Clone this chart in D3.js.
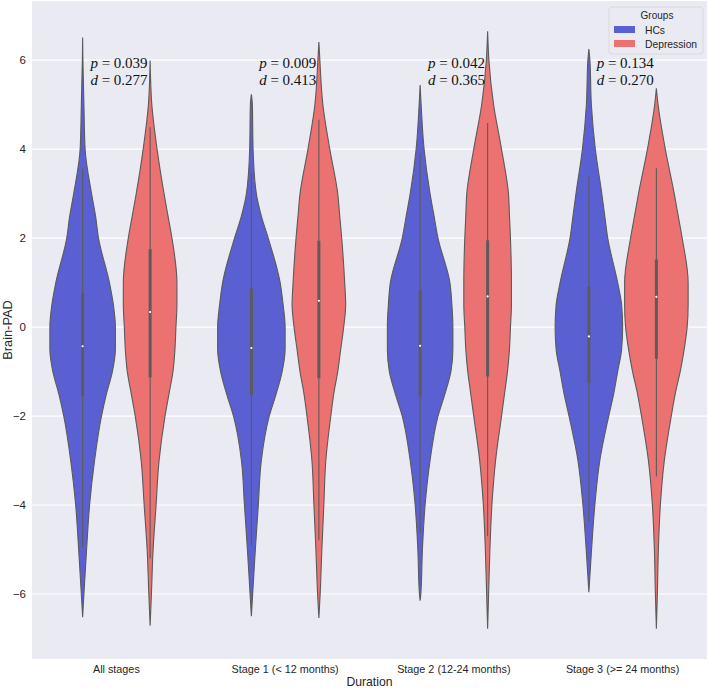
<!DOCTYPE html>
<html>
<head>
<meta charset="utf-8">
<script src="https://cdn.jsdelivr.net/npm/d3@7"></script>
<style>
  body { margin: 0; background: #fff; }
  svg { display: block; }
</style>
</head>
<body>
<svg id="chart" width="709" height="688"></svg>
<script>
// ---------------- DATA ----------------
const categories = ["All stages", "Stage 1 (< 12 months)", "Stage 2 (12-24 months)", "Stage 3 (>= 24 months)"];
const groups = ["HCs", "Depression"];
const groupColors = ["#5a5fd1", "#ec7171"];
const yTicks = [-6, -4, -2, 0, 2, 4, 6];

// Brain-PAD values at which the violin density (half-width) is read
const gridValues = [6, 5, 4, 3, 2.5, 2, 1, 0.5, 0, -0.5, -1, -1.5, -2, -3, -4, -5, -6];

// relative density (one array per category)
const hcsDensity = [
  [0.3, 1.3, 2.5, 9, 13, 16, 27, 31, 33, 33, 30, 24, 19, 12, 7, 4, 1.3],
  [null, 1, 1.7, 5, 10, 17, 29, 32, 34, 34, 31, 25, 18, 10, 7, 4, 1.3],
  [null, 1, 4, 10, 14, 18, 30, 32, 33, 33, 31, 25, 18, 10, 5, 2.3, 0.7],
  [1, 2.5, 6.5, 13, 16, 19, 29, 33, 34, 33, 29, 25, 20, 11, 6, 2.7, null]
];
const depDensity = [
  [null, 1.7, 7, 14, 18, 22, 27, 27, 26, 25, 23, 19, 15, 9, 6, 3, 1.3],
  [1, 4, 11, 19, 21, 23, 26, 27, 25, 22, 19, 15, 12, 7, 5, 3, 1.3],
  [1.3, 6, 14, 21, 22, 23, 24, 24, 23, 22, 20, 17, 14, 8, 4.3, 2.3, 1],
  [null, 1.7, 9, 18, 22, 26, 32, 32, 31, 28, 24, 19, 15, 8, 4, 2, 1]
];
// violin extent [max, min]
const hcsExtent = [[6.51, -6.52], [5.23, -6.50], [5.44, -6.15], [6.25, -5.96]];
const depExtent = [[5.99, -6.71], [6.41, -6.54], [6.65, -6.78], [5.37, -6.78]];
// inner box: [lower whisker, q1, median, q3, upper whisker]
const hcsBox = [
  [-4.94, -1.55, -0.43, 0.77, 3.57],
  [-4.90, -1.53, -0.47, 0.87, 3.45],
  [-4.63, -1.56, -0.42, 0.83, 3.90],
  [-4.37, -1.25, -0.21, 0.91, 3.39]
];
const depBox = [
  [-5.20, -1.13, 0.34, 1.75, 4.49],
  [-4.79, -1.15, 0.59, 1.94, 4.66],
  [-4.70, -1.11, 0.69, 1.95, 4.59],
  [-3.36, -0.71, 0.68, 1.52, 3.57]
];
const pValues = ["0.039", "0.009", "0.042", "0.134"];
const dValues = ["0.277", "0.413", "0.365", "0.270"];

// ---------------- LAYOUT ----------------
const svg = d3.select("#chart");
const plot = { left: 32, right: 707, top: 1, bottom: 659 };
const textColor = "#262626";
const sans = "'Liberation Sans', Arial, sans-serif";
const serif = "'Liberation Serif', 'Times New Roman', serif";

const x = d3.scaleBand().domain(categories).range([plot.left, plot.right]).paddingInner(0).paddingOuter(0);
const xSub = d3.scaleBand().domain(groups).range([x.bandwidth() * 0.1, x.bandwidth() * 0.9]);
const y = d3.scaleLinear().domain([-7.46, 7.33]).range([plot.bottom, plot.top]);
const w = d3.scaleLinear().domain([0, 34]).range([0, xSub.bandwidth() / 2]);

// background
svg.append("rect")
  .attr("x", plot.left).attr("y", plot.top)
  .attr("width", plot.right - plot.left).attr("height", plot.bottom - plot.top)
  .attr("fill", "#eaeaf2");

// grid
svg.append("g").selectAll("line").data(yTicks).join("line")
  .attr("x1", plot.left).attr("x2", plot.right)
  .attr("y1", d => y(d)).attr("y2", d => y(d))
  .attr("stroke", "#fff").attr("stroke-width", 1.1);

// y axis
const yAxis = d3.axisLeft(y).tickValues(yTicks).tickSize(0).tickPadding(6)
  .tickFormat(d => d < 0 ? "\u2212" + Math.abs(d) : String(d));
const gy = svg.append("g").attr("transform", `translate(${plot.left},0)`).call(yAxis);
gy.select(".domain").remove();
gy.selectAll("text").attr("font-family", sans).attr("font-size", 11.5).attr("fill", textColor);

// x axis
const xAxis = d3.axisBottom(x).tickSize(0).tickPadding(6);
const gx = svg.append("g").attr("transform", `translate(0,${plot.bottom})`).call(xAxis);
gx.select(".domain").remove();
gx.selectAll("text").attr("font-family", sans).attr("font-size", 10.8).attr("fill", textColor);

// axis titles
svg.append("text")
  .attr("x", (plot.left + plot.right) / 2).attr("y", 686)
  .attr("text-anchor", "middle")
  .attr("font-family", sans).attr("font-size", 12.2).attr("fill", textColor)
  .text("Duration");
svg.append("text")
  .attr("transform", `translate(12,${(plot.top + plot.bottom) / 2}) rotate(-90)`)
  .attr("text-anchor", "middle")
  .attr("font-family", sans).attr("font-size", 12.8).attr("fill", textColor)
  .text("Brain-PAD");

// ---------------- VIOLINS ----------------
function violinPoints(dens, ext) {
  const pts = [{ v: ext[0], d: 0 }];
  gridValues.forEach((v, i) => {
    if (dens[i] != null && v < ext[0] && v > ext[1]) pts.push({ v, d: dens[i] });
  });
  pts.push({ v: ext[1], d: 0 });
  return pts;
}

const violins = [];
categories.forEach((c, i) => {
  violins.push({ cat: c, grp: groups[0], color: groupColors[0], pts: violinPoints(hcsDensity[i], hcsExtent[i]), box: hcsBox[i] });
  violins.push({ cat: c, grp: groups[1], color: groupColors[1], pts: violinPoints(depDensity[i], depExtent[i]), box: depBox[i] });
});

const outline = "#5b5b5b";
const gv = svg.append("g");
violins.forEach(vi => {
  const cx = x(vi.cat) + xSub(vi.grp) + xSub.bandwidth() / 2;
  const area = d3.area()
    .y(p => y(p.v))
    .x0(p => cx - w(p.d))
    .x1(p => cx + w(p.d))
    .curve(d3.curveMonotoneY);
  gv.append("path").datum(vi.pts)
    .attr("d", area)
    .attr("fill", vi.color)
    .attr("stroke", outline).attr("stroke-width", 1.1);
  const b = vi.box;
  gv.append("line").attr("x1", cx).attr("x2", cx).attr("y1", y(b[0])).attr("y2", y(b[4]))
    .attr("stroke", outline).attr("stroke-width", 1.1);
  gv.append("line").attr("x1", cx).attr("x2", cx).attr("y1", y(b[1])).attr("y2", y(b[3]))
    .attr("stroke", outline).attr("stroke-width", 3);
  gv.append("circle").attr("cx", cx).attr("cy", y(b[2])).attr("r", 1.1).attr("fill", "#fff");
});

// ---------------- ANNOTATIONS ----------------
categories.forEach((c, i) => {
  const tx = x(c) + x.bandwidth() / 2 - 26;
  const t1 = svg.append("text").attr("x", tx).attr("y", 68)
    .attr("font-family", serif).attr("font-size", 15).attr("fill", "#111");
  t1.append("tspan").attr("font-style", "italic").text("p");
  t1.append("tspan").text(" = " + pValues[i]);
  const t2 = svg.append("text").attr("x", tx).attr("y", 85)
    .attr("font-family", serif).attr("font-size", 15).attr("fill", "#111");
  t2.append("tspan").attr("font-style", "italic").text("d");
  t2.append("tspan").text(" = " + dValues[i]);
});

// ---------------- LEGEND ----------------
const lg = svg.append("g").attr("transform", "translate(609,7)");
lg.append("rect").attr("width", 94).attr("height", 47).attr("rx", 3)
  .attr("fill", "#eaeaf2").attr("fill-opacity", 0.85)
  .attr("stroke", "#d8d8e0").attr("stroke-width", 1);
lg.append("text").attr("x", 48).attr("y", 12)
  .attr("text-anchor", "middle")
  .attr("font-family", sans).attr("font-size", 10).attr("fill", textColor).text("Groups");
groups.forEach((g, i) => {
  lg.append("rect").attr("x", 5).attr("y", 19 + i * 14).attr("width", 21).attr("height", 7)
    .attr("fill", groupColors[i]);
  lg.append("text").attr("x", 36).attr("y", 26.5 + i * 14)
    .attr("font-family", sans).attr("font-size", 10.3).attr("fill", textColor).text(g);
});
</script>
</body>
</html>
